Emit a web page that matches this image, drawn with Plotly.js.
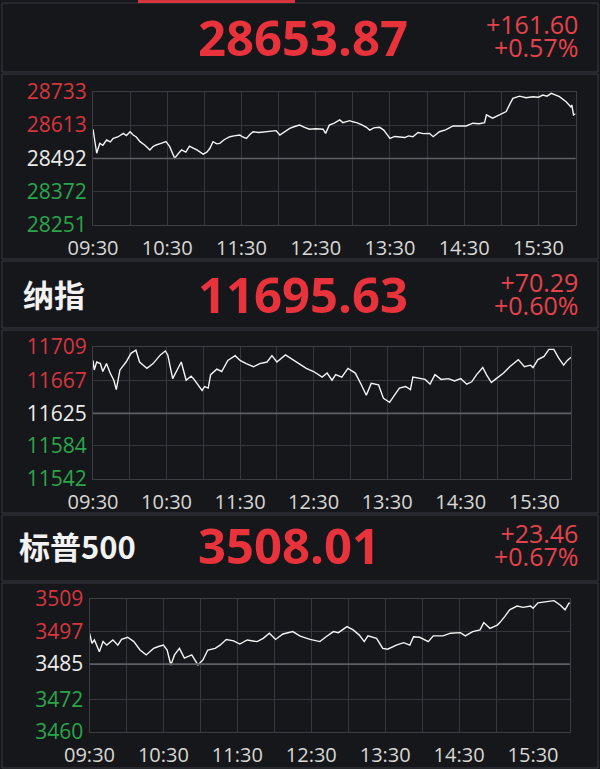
<!DOCTYPE html>
<html><head><meta charset="utf-8">
<script src="https://cdn.plot.ly/plotly-3.0.1.min.js"></script>
<style>html,body{margin:0;padding:0;background:#16171b;}#c{width:600px;height:769px;}</style>
</head><body><div id="c"></div>
<script>
// ---- data ----
const timeTicks = [0, 60, 120, 180, 240, 300, 360];
const timeLabels = ["09:30", "10:30", "11:30", "12:30", "13:30", "14:30", "15:30"];

const dowName = "";
const dowLast = "28653.87", dowChg = "+161.60", dowPct = "+0.57%";
const dowTicks = [28251, 28372, 28492, 28613, 28733];
const dowT = [0,3,5.5,8,11,14,16.4,20,24.5,27,30,32.5,35,38,42,46,48.5,51,55,59,62,66,69,71.6,75,78,81,84,89,92,94.5,97,100,102.5,106,110.6,114,118.7,121,124,127,129.4,134,140,144,148,151,155,159,163,167,171,175,180,186,188,191,195,199.4,202,207.5,210,213,217,221,223.7,227,231.7,235,237,240,244,248,252,255,258.6,262.7,267,272,275,280,285,291,296,301.7,307,312,316.5,318,323,328.6,334,337,339.4,344.8,350,355.6,360,363.6,367,370.4,374,377,382.4,386.5,387,388.4,390];
const dowV = [28598,28511,28547,28540,28559,28552,28565,28570,28583,28575,28589,28577,28570,28553,28540,28523,28535,28541,28547,28553,28535,28493,28510,28523,28515,28537,28530,28523,28508,28515,28529,28553,28545,28547,28560,28571,28574,28577,28570,28565,28580,28589,28586,28589,28592,28593,28577,28590,28601,28608,28613,28605,28598,28600,28598,28583,28613,28620,28632,28622,28629,28625,28622,28615,28605,28595,28603,28605,28595,28583,28565,28572,28571,28568,28574,28571,28586,28582,28583,28571,28589,28596,28610,28610,28610,28620,28618,28622,28650,28638,28650,28662,28690,28710,28718,28712,28716,28714,28722,28718,28728,28722,28716,28698,28678,28686,28650,28654];

const ndqName = "纳指";
const ndqLast = "11695.63", ndqChg = "+70.29", ndqPct = "+0.60%";
const ndqTicks = [11542, 11584, 11625, 11667, 11709];
const ndqT = [0,1,3,6,8,11,14,17,19,22,27,31,35,38,41,44,49,55,59,61,65,68,72,76,80,82,85,89,91,94,96,101,105,110,116,120,125,131,136,142,146,150,157,163,169,174,180,187,191,195,198,203,208,214,219,223,227,233,237,242,246,250,255,259,261,267,271,275,279,284,290,295,300,305,309,313,318,321,325,329,335,340,347,352,357,359,363,368,372,376,380,384,387,390];
const ndqV = [11692,11680,11690,11688,11678,11688,11676,11667,11655,11680,11690,11701,11705,11690,11686,11682,11688,11699,11704,11699,11669,11678,11690,11667,11672,11669,11663,11654,11659,11657,11674,11681,11678,11692,11698,11692,11688,11684,11688,11690,11698,11690,11699,11693,11686,11682,11678,11671,11676,11667,11674,11671,11682,11676,11661,11648,11663,11661,11644,11639,11648,11657,11659,11655,11671,11669,11668,11662,11674,11668,11669,11666,11669,11662,11665,11674,11683,11674,11664,11669,11676,11684,11693,11684,11686,11683,11693,11697,11706,11706,11695,11686,11692,11696];

const spxName = "标普500";
const spxLast = "3508.01", spxChg = "+23.46", spxPct = "+0.67%";
const spxTicks = [3460, 3472, 3485, 3497, 3509];
const spxT = [0,2,4,8,11,14,19,23,26,31,36,41,46,52,56,60,63,66,69,73,77,83,88,92,96,102,106,111,117,122,128,136,141,146,151,157,165,171,179,187,192,198,202,209,214,219,223,226,233,238,242,249,255,260,263,268,275,279,287,293,301,305,311,317,320,325,331,333,337,341,347,352,358,360,364,371,377,382,386,389,390];
const spxV = [3496.4,3492.7,3493.9,3489.6,3493.3,3492,3493.9,3492,3494.1,3494.9,3493.3,3490.2,3488.4,3490.8,3491.5,3492,3490.2,3484.7,3488.4,3490.8,3487.2,3488.4,3484.7,3486.5,3490.2,3490.8,3492,3494.1,3493.6,3492.4,3493.9,3493.3,3494.5,3496.4,3494.1,3496.1,3497,3495.3,3494.1,3493.3,3495.1,3497,3496.6,3498.8,3497.6,3495.7,3493.3,3495.4,3494.5,3490.8,3490.5,3492,3492.9,3492,3495.1,3494.9,3493.3,3495.4,3495.4,3496.4,3496.6,3495.4,3497,3497.6,3500.3,3498.2,3499.4,3500.3,3502.5,3505,3506.4,3505.9,3506.4,3505.6,3507.6,3508,3508.4,3506.8,3505,3507.4,3507.6];

// ---- styling ----
const W = 600, H = 769;
const px = x => x / W, py = y => 1 - y / H;
const BG = "#16171b", GRID = "#35373c", MID = "#5d5f64", FRAME = "#3c3e43", BOX = "#383a40";
const RED = "#e8323c", CHG = "#e4434b", UP = "#d6363e", DN = "#2aa54a", MIDC = "#ececec";
const NUMFONT = "Open Sans, Noto Sans, sans-serif";
const CJK = "Noto Sans CJK SC, sans-serif";

function colorTicks(ticks) {
  const cols = [DN, DN, MIDC, UP, UP];
  return ticks.map((t, i) => '<span style="color:' + cols[i] + '">' + t + '</span>');
}
function xAxis(dom, anchor) {
  return {domain: dom, anchor: anchor, range: [0, 390], tickmode: "array", tickvals: timeTicks, ticktext: timeLabels,
    showgrid: true, gridcolor: GRID, gridwidth: 1, zeroline: false, showline: true, mirror: true, linecolor: FRAME, linewidth: 1,
    ticks: "", ticklabelstandoff: 5, tickfont: {family: NUMFONT, size: 20, color: "#d8d8d4"},
    minor: {tickmode: "linear", tick0: 30, dtick: 60, showgrid: true, gridcolor: GRID, gridwidth: 1}, fixedrange: true};
}
function yAxis(dom, anchor, ticks) {
  return {domain: dom, anchor: anchor, range: [ticks[0], ticks[4]], tickmode: "array", tickvals: ticks, ticktext: colorTicks(ticks),
    showgrid: true, gridcolor: GRID, gridwidth: 1, zeroline: false, showline: true, mirror: true, linecolor: FRAME, linewidth: 1,
    ticks: "", ticklabelstandoff: 1, tickfont: {family: NUMFONT, size: 21, color: MIDC}, fixedrange: true};
}
const lineStyle = {color: "#f4f4f4", width: 1.4};
const traces = [
  {x: dowT, y: dowV, xaxis: "x", yaxis: "y", type: "scatter", mode: "lines", line: lineStyle, hoverinfo: "skip"},
  {x: ndqT, y: ndqV, xaxis: "x2", yaxis: "y2", type: "scatter", mode: "lines", line: lineStyle, hoverinfo: "skip"},
  {x: spxT, y: spxV, xaxis: "x3", yaxis: "y3", type: "scatter", mode: "lines", line: lineStyle, hoverinfo: "skip"}
];

function box(y0, y1) {
  return {type: "rect", xref: "paper", yref: "paper", x0: px(2), x1: px(598), y0: py(y1), y1: py(y0), line: {color: BOX, width: 1}, layer: "below"};
}
function midLine(xr, yr, v) {
  return {type: "line", xref: xr + " domain", yref: yr, x0: 0, x1: 1, y0: v, y1: v, line: {color: MID, width: 1.6}};
}
function header(yc, name, nameX, last, chg, pct) {
  const a = [];
  if (name) a.push({xref: "paper", yref: "paper", x: px(nameX), y: py(yc), xanchor: "left", yanchor: "middle", showarrow: false,
    text: name, font: {family: CJK, size: 31, color: "#f2f2f2", weight: 700}});
  a.push({xref: "paper", yref: "paper", x: px(196), y: py(yc), xanchor: "left", yanchor: "middle", showarrow: false,
    text: last, font: {family: NUMFONT, size: 49, color: RED, weight: 700}});
  // two-line change block: small base size keeps the line pitch tight, spans enlarge the glyphs
  a.push({xref: "paper", yref: "paper", x: px(580), y: py(yc - 1), xanchor: "right", yanchor: "middle", showarrow: false,
    align: "right", text: '<span style="font-size:25px">' + chg + '</span><br><span style="font-size:25px">' + pct + '</span>',
    font: {family: NUMFONT, size: 18, color: CHG}});
  return a;
}

const layout = {
  width: W, height: H, margin: {l: 0, r: 0, t: 0, b: 0}, paper_bgcolor: BG, plot_bgcolor: BG, showlegend: false,
  xaxis: xAxis([px(93), px(575.5)], "y"), yaxis: yAxis([py(225), py(92)], "x", dowTicks),
  xaxis2: xAxis([px(93), px(571)], "y2"), yaxis2: yAxis([py(479), py(347)], "x2", ndqTicks),
  xaxis3: xAxis([px(89.5), px(570)], "y3"), yaxis3: yAxis([py(732), py(599)], "x3", spxTicks),
  shapes: [
    {type: "rect", xref: "paper", yref: "paper", x0: px(138), x1: px(295), y0: py(3), y1: py(0), fillcolor: "#d6353c", line: {width: 0}},
    box(3, 72), box(74, 259), box(261, 328), box(330, 513), box(515, 581), box(583, 768),
    midLine("x", "y", dowTicks[2]), midLine("x2", "y2", ndqTicks[2]), midLine("x3", "y3", spxTicks[2])
  ],
  annotations: [].concat(header(37, dowName, 20, dowLast, dowChg, dowPct), header(294, ndqName, 21, ndqLast, ndqChg, ndqPct), header(545, spxName, 17, spxLast, spxChg, spxPct))
};
Plotly.newPlot("c", traces, layout, {displayModeBar: false, staticPlot: true});
</script></body></html>
